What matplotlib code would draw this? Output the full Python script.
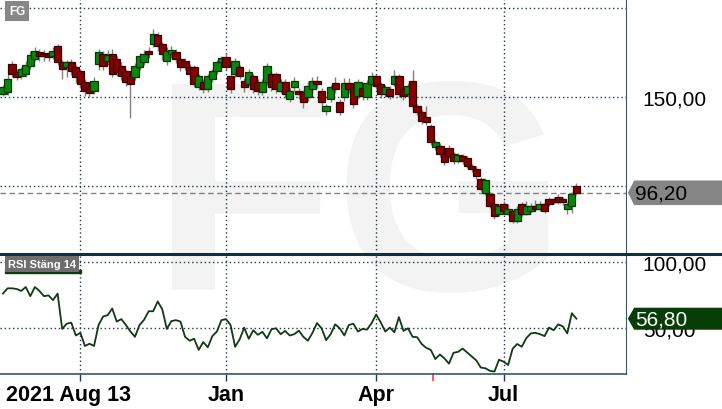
import matplotlib
matplotlib.use('Agg')
import matplotlib.pyplot as plt
import matplotlib.transforms as mtransforms
from matplotlib.patches import Polygon, Rectangle
from matplotlib.lines import Line2D

plt.rcParams['font.family'] = ['Liberation Sans', 'DejaVu Sans']

# dagliga candles (index = handelsdag)
opens = [151.7, 152.8, 168.5, 164.0, 161.8, 163.0, 167.4, 171.3, 175.3, 174.7,
         174.2, 173.0, 178.6, 169.7, 166.9, 169.7, 166.9, 164.6, 158.4, 156.2,
         153.4, 168.5, 174.2, 170.2, 174.2, 171.3, 167.4, 164.6, 161.8, 161.2,
         166.9, 169.7, 175.8, 179.8, 184.8, 179.8, 170.2, 174.2, 175.3, 171.3,
         170.2, 166.9, 166.9, 155.6, 158.4, 154.5, 160.1, 164.6, 169.7, 172.5,
         161.8, 162.9, 166.9, 159.0, 157.3, 161.8, 158.4, 152.8, 158.4, 162.9,
         162.9, 153.4, 158.4, 148.9, 155.6, 153.4, 152.8, 150.0, 154.5, 159.0,
         153.4, 142.1, 148.9, 157.9, 147.2, 150.0, 157.9, 155.6, 150.6, 155.0,
         150.0, 157.3, 161.8, 157.3, 151.7, 154.5, 157.3, 161.8, 154.5, 151.7,
         159.0, 144.9, 141.6, 138.8, 133.7, 121.9, 122.5, 118.0, 121.3, 118.0,
         114.0, 116.9, 115.7, 111.2, 109.6, 103.9, 96.1, 95.5, 89.9, 84.3,
         89.9, 84.3, 86.0, 80.3, 89.9, 84.3, 86.0, 88.8, 87.1, 89.9,
         92.7, 92.7, 93.8, 92.7, 87.1, 88.8, 100.0]
closes = [155.6, 160.1, 162.9, 161.2, 165.7, 168.0, 173.6, 175.8, 173.0, 173.0,
          172.5, 175.8, 169.7, 165.7, 169.7, 164.6, 161.2, 157.3, 153.4, 152.2,
          159.0, 175.3, 167.4, 173.6, 163.0, 164.0, 161.8, 158.4, 157.3, 167.4,
          173.0, 174.2, 174.2, 185.4, 178.6, 174.2, 175.8, 176.4, 171.3, 166.9,
          166.9, 162.9, 157.3, 161.8, 154.5, 161.8, 164.6, 169.7, 171.9, 166.9,
          154.5, 170.2, 161.8, 155.6, 164.0, 154.5, 153.4, 158.4, 167.4, 155.6,
          154.5, 158.4, 151.7, 153.4, 159.0, 151.7, 147.2, 156.2, 159.0, 157.3,
          147.2, 144.9, 155.6, 154.5, 141.6, 157.9, 154.5, 146.1, 158.4, 150.6,
          157.9, 161.8, 156.2, 151.7, 155.6, 150.6, 161.8, 151.7, 150.6, 156.2,
          144.9, 141.6, 136.5, 136.0, 124.7, 124.7, 118.0, 113.5, 116.9, 114.0,
          117.4, 114.0, 111.2, 109.6, 105.6, 98.3, 103.4, 88.8, 83.1, 88.8,
          86.0, 87.1, 80.3, 87.1, 84.3, 88.8, 88.8, 87.1, 89.9, 86.0,
          89.9, 91.0, 91.0, 91.0, 89.9, 95.5, 96.2]
highs = [157.0, 163.0, 170.0, 166.0, 167.0, 170.0, 176.0, 178.0, 177.0, 176.5,
         176.0, 178.0, 180.0, 171.0, 171.0, 171.5, 168.0, 166.0, 160.0, 157.5,
         161.0, 177.0, 176.0, 176.5, 177.0, 173.0, 169.5, 166.0, 163.5, 169.0,
         175.0, 176.5, 178.0, 188.0, 186.5, 181.0, 178.0, 178.5, 177.0, 173.0,
         172.0, 168.5, 168.0, 163.0, 160.0, 163.0, 166.0, 171.0, 173.0, 174.5,
         163.0, 172.0, 168.0, 160.5, 165.5, 163.0, 160.0, 160.0, 169.0, 164.5,
         164.0, 160.0, 160.0, 155.0, 161.0, 155.0, 154.0, 159.0, 161.0, 162.0,
         155.0, 146.0, 157.0, 161.0, 149.0, 160.5, 160.5, 157.0, 160.0, 156.5,
         159.5, 164.0, 163.0, 158.5, 157.0, 156.0, 165.0, 163.0, 156.0, 158.0,
         165.0, 146.0, 143.0, 145.0, 135.0, 126.0, 124.0, 119.5, 123.0, 119.0,
         118.5, 118.0, 117.0, 112.5, 111.0, 105.0, 104.5, 96.5, 91.0, 90.0,
         91.5, 90.0, 87.0, 89.0, 91.0, 91.5, 90.5, 92.0, 91.5, 91.0,
         94.0, 94.0, 95.5, 94.0, 91.0, 96.5, 101.7]
lows = [150.5, 151.0, 161.0, 159.5, 160.0, 161.5, 166.0, 170.0, 170.5, 170.0,
        170.5, 171.5, 168.0, 160.0, 161.0, 162.5, 158.0, 155.0, 150.5, 150.0,
        151.5, 165.0, 165.0, 168.0, 161.0, 162.0, 159.5, 156.0, 138.0, 159.5,
        165.0, 168.0, 172.0, 178.0, 176.0, 171.0, 168.0, 172.0, 169.0, 164.5,
        165.0, 161.0, 155.5, 154.0, 152.5, 153.0, 158.5, 163.0, 168.0, 165.0,
        152.5, 161.0, 160.0, 153.0, 156.0, 152.0, 151.0, 151.0, 157.0, 153.5,
        152.0, 152.0, 149.5, 147.0, 153.5, 149.0, 144.0, 148.0, 153.0, 155.0,
        145.0, 140.0, 147.0, 152.5, 140.0, 148.0, 152.5, 144.0, 149.0, 148.5,
        148.5, 156.0, 154.5, 149.5, 150.0, 149.0, 156.0, 150.0, 148.5, 150.0,
        143.5, 140.0, 135.0, 134.5, 123.0, 120.5, 116.5, 112.0, 115.5, 112.5,
        113.0, 112.5, 110.0, 108.0, 104.0, 97.0, 95.0, 87.5, 81.5, 83.0,
        84.5, 83.5, 79.0, 79.5, 83.0, 83.5, 85.0, 86.0, 86.0, 85.0,
        88.5, 90.0, 90.0, 89.5, 84.5, 85.0, 95.0]
# RSI Stäng 14
rsi = [76, 80, 80, 79.5, 78, 81, 74, 81, 78, 74,
       74.6, 71, 76, 49, 53, 53.8, 44, 46, 36, 37.7,
       36, 52, 58.5, 59.5, 64.6, 54.6, 56.5, 52, 47, 43,
       52, 56, 62.5, 62.5, 70, 64, 49, 55, 55.7, 54.6,
       43, 40, 41.5, 33, 39, 35, 43.5, 47, 55.7, 56.5,
       52, 35.4, 41, 50, 41.5, 48, 44.5, 46.8, 41.8, 48.8,
       49.5, 45, 47.5, 44, 45, 47.7, 43, 40, 46, 53.5,
       49.5, 40.5, 45, 52.5, 49.5, 44, 52, 53, 47, 49,
       48.5, 53.5, 60, 54, 47, 50, 46.5, 58, 47.5, 49.5,
       43, 42.7, 37.5, 34.6, 33, 26, 29.5, 26.5, 22.5, 30.8,
       31.5, 34, 31, 28, 25, 19.5, 19, 17, 16.5, 25.5,
       24, 21.5, 34, 37.5, 35.4, 42, 45.6, 46, 45, 43.5,
       50, 48, 52.5, 51, 45.6, 61, 56.8]

tick_pos = [17, 49, 82, 110]
tick_labels = ['2021 Aug 13', 'Jan', 'Apr', 'Jul']
event_pos = [94.5]
price_ticks = [100, 150]
price_grid = [100, 150, 200]
rsi_ticks = [50, 100]

navy = '#1b3a4b'
frame = '#2f5878'

def fmt(v):
    return ('%.2f' % v).replace('.', ',')

fig = plt.figure(figsize=(7.22, 4.10), dpi=100)
fig.patch.set_facecolor('white')

# vattenmärke
fig.text(152/722, 120/410, 'FG', fontsize=215, fontweight='bold', color='#f3f3f3',
         ha='left', va='baseline', zorder=-1)

ax1 = fig.add_axes([0, 155/410, 626/722, 255/410])
ax2 = fig.add_axes([0, 35/410, 626/722, 120/410], sharex=ax1)

x = list(range(len(closes)))
for ax in (ax1, ax2):
    ax.set_facecolor('none')
    ax.spines['left'].set_visible(False)
    ax.spines['top'].set_visible(False)
    ax.spines['right'].set_color(frame)
    ax.spines['bottom'].set_color(frame)
    ax.spines['bottom'].set_linewidth(1.2)
    for t in tick_pos:
        ax.axvline(t, color=navy, lw=1, ls=(0, (1, 2)), zorder=1)
ax1.spines['bottom'].set_visible(False)

# candles
ax1.vlines(x, lows, highs, color='#808080', lw=1, zorder=2)
for i in x:
    o, c = opens[i], closes[i]
    up = c >= o
    ax1.bar(i, abs(c - o), bottom=min(o, c), width=1.6,
            color='#0a870a' if up else '#850000',
            edgecolor='#063806' if up else '#3a0000', linewidth=0.9, zorder=3)
for g in price_grid:
    ax1.axhline(g, color=navy, lw=1, ls=(0, (1, 2)), zorder=1)
ax1.axhline(closes[-1], color='#808080', lw=1, ls=(0, (4, 2.5)), zorder=2)

ax1.set_xlim(-0.66, 136.9)
ax1.set_ylim(61.8, 205.1)
ax1.yaxis.tick_right()
ax1.set_yticks(price_ticks)
ax1.set_yticklabels([fmt(v) for v in price_ticks])
ax1.tick_params(axis='y', length=0, pad=12, labelsize=15)
ax1.tick_params(axis='x', bottom=False, labelbottom=False)

# RSI
ax2.plot(x, rsi, color='#0f3a12', lw=1.3, zorder=3)
for g in rsi_ticks:
    ax2.axhline(g, color=navy, lw=1, ls=(0, (1, 2)), zorder=1)
ax2.set_ylim(14.6, 106.2)
ax2.yaxis.tick_right()
ax2.set_yticks(rsi_ticks)
ax2.set_yticklabels([fmt(v) for v in rsi_ticks])
ax2.tick_params(axis='y', length=0, pad=12, labelsize=15)
ax2.set_xticks(tick_pos)
ax2.set_xticklabels(tick_labels, fontweight='bold', fontsize=15.5)
ax2.tick_params(axis='x', length=5, width=1, color=navy, pad=2)
lbl = ax2.get_xticklabels()[0]
lbl.set_transform(lbl.get_transform() + mtransforms.ScaledTranslation(-0.12, 0, fig.dpi_scale_trans))
for e in event_pos:
    ax2.plot([e, e], [0, -0.05], color='#ff5a5a', lw=1.5,
             transform=mtransforms.blended_transform_factory(ax2.transData, ax2.transAxes),
             clip_on=False)

# skiljelinje mellan panelerna
fig.add_artist(Line2D([0, 1], [155/410, 155/410], color='#142f3b', lw=2.2))

# senaste värde
def value_box(ax, v, half, fc, tc):
    tr = mtransforms.blended_transform_factory(ax.transAxes, ax.transData)
    poly = Polygon([(1.003, v), (1.013, v + half), (1.16, v + half),
                    (1.16, v - half), (1.013, v - half)], closed=True,
                   transform=tr, facecolor=fc, edgecolor='none', clip_on=False, zorder=5)
    ax.add_patch(poly)
    ax.text(1.015, v, fmt(v), transform=tr, color=tc, fontsize=15,
            ha='left', va='center', clip_on=False, zorder=6)

value_box(ax1, closes[-1], 6.9, '#858585', 'black')
value_box(ax2, rsi[-1], 8.4, '#073d07', 'white')

# panelrubriker
fig.text(9/722, 1 - 12/410, 'FG', color='white', fontsize=8.5, fontweight='bold',
         ha='left', va='center',
         bbox=dict(boxstyle='square,pad=0.3', fc='#878787', ec='none'))
fig.text(8/722, (410 - 265)/410, 'RSI Stäng 14', color='white', fontsize=8,
         fontweight='bold', ha='left', va='center',
         bbox=dict(boxstyle='square,pad=0.25', fc='#6e6e6e', ec='none'))
fig.add_artist(Rectangle((5/722, (410 - 274)/410), 76/722, 3/410,
                         transform=fig.transFigure, color='#0b3d0b'))

fig.savefig('out.png', dpi=100)
